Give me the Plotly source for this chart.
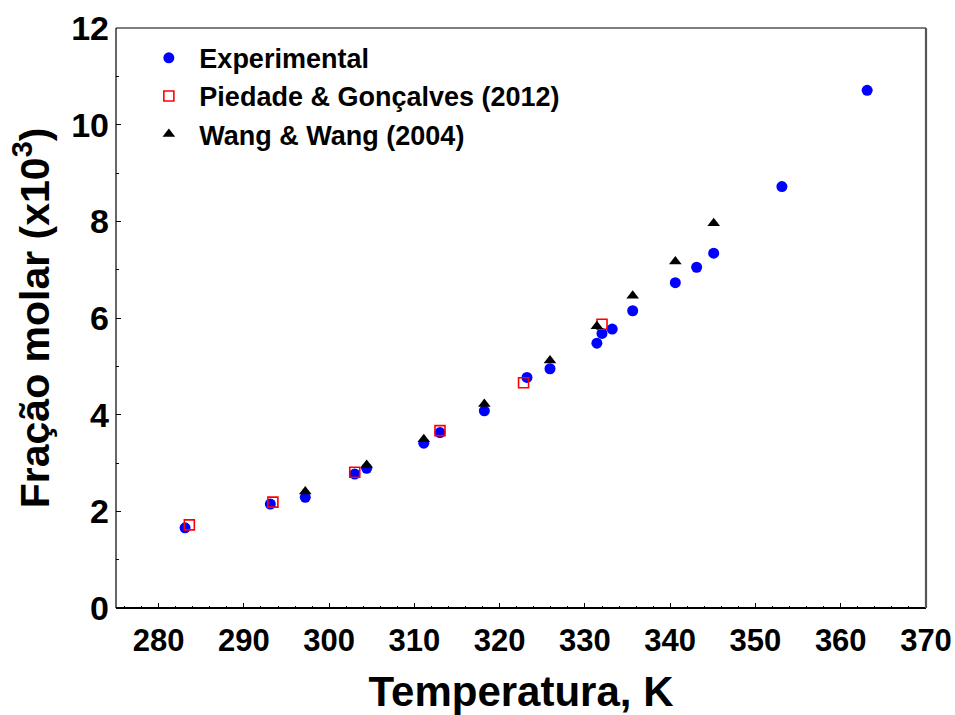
import plotly.graph_objects as go

# Experimental
exp_T = [283.1, 293.1, 297.2, 303.0, 304.4, 311.1, 313.0, 318.2, 323.2, 325.9,
         331.4, 332.0, 333.2, 335.6, 340.6, 343.1, 345.1, 353.1, 363.1]
exp_x = [1.66, 2.15, 2.29, 2.77, 2.89, 3.41, 3.63, 4.08, 4.77, 4.95,
         5.48, 5.68, 5.77, 6.15, 6.73, 7.05, 7.34, 8.72, 10.71]

# Piedade & Gonçalves (2012)
pg_T = [283.6, 293.4, 303.0, 313.0, 322.8, 332.0]
pg_x = [1.72, 2.19, 2.81, 3.67, 4.66, 5.87]

# Wang & Wang (2004)
ww_T = [297.2, 304.4, 311.1, 318.2, 325.9, 331.4, 335.6, 340.6, 345.1]
ww_x = [2.41, 2.96, 3.49, 4.22, 5.12, 5.83, 6.46, 7.17, 7.96]

x_ticks = [280, 290, 300, 310, 320, 330, 340, 350, 360, 370]
y_ticks = [0, 2, 4, 6, 8, 10, 12]

FONT = "Arial, Liberation Sans, sans-serif"

fig = go.Figure()
fig.add_trace(go.Scatter(x=exp_T, y=exp_x, mode="markers", name="Experimental",
                         marker=dict(symbol="circle", size=11, color="#0000ff",
                                     line=dict(width=0))))
fig.add_trace(go.Scatter(x=pg_T, y=pg_x, mode="markers", name="Piedade & Gonçalves (2012)",
                         marker=dict(symbol="square-open", size=10, color="#ff0000",
                                     line=dict(width=1.6, color="#ff0000"))))
fig.add_trace(go.Scatter(x=ww_T, y=ww_x, mode="markers", name="Wang & Wang (2004)",
                         marker=dict(symbol="triangle-up", size=11, color="#000000",
                                     line=dict(width=0))))

fig.update_layout(
    width=955, height=715,
    margin=dict(l=116, r=29, t=28, b=107, autoexpand=False),
    plot_bgcolor="white", paper_bgcolor="white",
    font=dict(family=FONT, color="black"),
    showlegend=True,
    legend=dict(x=0.0276, y=0.99, xanchor="left", yanchor="top",
                bgcolor="rgba(0,0,0,0)", borderwidth=0, itemwidth=51,
                font=dict(size=27, family=FONT, color="black", weight="bold"),
                itemsizing="trace", tracegroupgap=0),
    xaxis=dict(range=[275, 370], tickvals=x_ticks, ticks="inside", ticklen=5,
               tickwidth=1.2, tickcolor="black", showgrid=False, zeroline=False,
               showline=False, automargin=False, ticklabelstandoff=11,
               minor=dict(dtick=2, ticks="inside", ticklen=2.5, tickcolor="black", tickwidth=1),
               tickfont=dict(size=31, family=FONT, color="black", weight="bold"),
               title=dict(text="Temperatura, K", standoff=23,
                          font=dict(size=42, family=FONT, color="black", weight="bold"))),
    yaxis=dict(range=[0, 12], tickvals=y_ticks, ticks="inside", ticklen=5,
               tickwidth=1.2, tickcolor="black", showgrid=False, zeroline=False,
               showline=False, automargin=False, ticklabelstandoff=6,
               minor=dict(dtick=1, ticks="inside", ticklen=2.5, tickcolor="black", tickwidth=1),
               tickfont=dict(size=34, family=FONT, color="black", weight="bold"),
               title=dict(text="Fração molar (x10<sup>3</sup>)", standoff=8,
                          font=dict(size=41, family=FONT, color="black", weight="bold"))),
)

# frame
fig.add_shape(type="line", xref="x domain", yref="y domain", x0=0, x1=1, y0=0, y1=0,
              line=dict(color="black", width=2.2))
fig.add_shape(type="line", xref="x domain", yref="y domain", x0=0, x1=0, y0=0, y1=1,
              line=dict(color="black", width=1.2))
fig.add_shape(type="line", xref="x domain", yref="y domain", x0=0, x1=1, y0=1, y1=1,
              line=dict(color="black", width=1.2))
fig.add_shape(type="line", xref="x domain", yref="y domain", x0=1, x1=1, y0=0, y1=1,
              line=dict(color="#555555", width=2.2))

fig.write_html("out.html")
